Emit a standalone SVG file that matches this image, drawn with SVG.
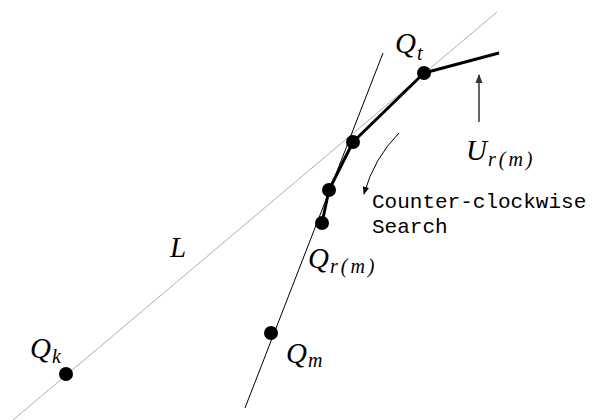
<svg xmlns="http://www.w3.org/2000/svg" width="594" height="420" viewBox="0 0 594 420">
<defs>
<style>
.lbl{font-family:"Liberation Serif","Times New Roman",serif;font-style:italic;font-size:29px;fill:#000}
.sub{font-size:20px;letter-spacing:3px}
.txt{font-family:"Liberation Mono","Courier New",monospace;font-size:21px;fill:#000}
.dot{fill:#000}
</style>
<marker id="ah" viewBox="0 0 10 10" refX="9" refY="5" markerWidth="8" markerHeight="8" markerUnits="userSpaceOnUse" orient="auto"><path d="M0,1 L10,5 L0,9 z" fill="#000"/></marker>
<marker id="ah2" viewBox="0 0 10 10" refX="9" refY="5" markerWidth="9" markerHeight="9" markerUnits="userSpaceOnUse" orient="auto"><path d="M0,1 L10,5 L0,9 z" fill="#333"/></marker>
</defs>
<g id="connectors">
<line x1="13" y1="420" x2="497" y2="12" stroke="#999" stroke-width="0.8"/>
<line x1="245" y1="408" x2="383" y2="53" stroke="#000" stroke-width="1"/>
<polyline points="499,53 424,73 353,142 329,190 322,223" fill="none" stroke="#000" stroke-width="3" stroke-linejoin="round"/>
<line x1="479" y1="122" x2="479" y2="75" stroke="#333" stroke-width="1.5" marker-end="url(#ah2)"/>
<path d="M399,133 Q374,158 364,194" fill="none" stroke="#000" stroke-width="1" marker-end="url(#ah)"/>
</g>
<g id="Qt"><circle class="dot" cx="424" cy="73" r="7"/><text class="lbl" x="395" y="53">Q<tspan class="sub" dx="1" dy="7">t</tspan></text></g>
<g id="P1"><circle class="dot" cx="353" cy="142" r="7"/></g>
<g id="P2"><circle class="dot" cx="329" cy="190" r="7"/></g>
<g id="Qrm"><circle class="dot" cx="322" cy="223" r="7"/><text class="lbl" x="308" y="268">Q<tspan class="sub" dx="1" dy="5">r(m)</tspan></text></g>
<g id="Qm"><circle class="dot" cx="271" cy="333" r="7"/><text class="lbl" x="286" y="363">Q<tspan class="sub" dx="1" dy="4">m</tspan></text></g>
<g id="Qk"><circle class="dot" cx="66" cy="374" r="7"/><text class="lbl" x="30" y="358">Q<tspan class="sub" dx="1" dy="5">k</tspan></text></g>
<g id="L"><text class="lbl" x="170" y="257">L</text></g>
<g id="U"><text class="lbl" x="466" y="160">U<tspan class="sub" dx="1" dy="6">r(m)</tspan></text></g>
<g id="search"><text class="txt" x="372" y="208">Counter-clockwise</text><text class="txt" x="372" y="233">Search</text></g>
</svg>
